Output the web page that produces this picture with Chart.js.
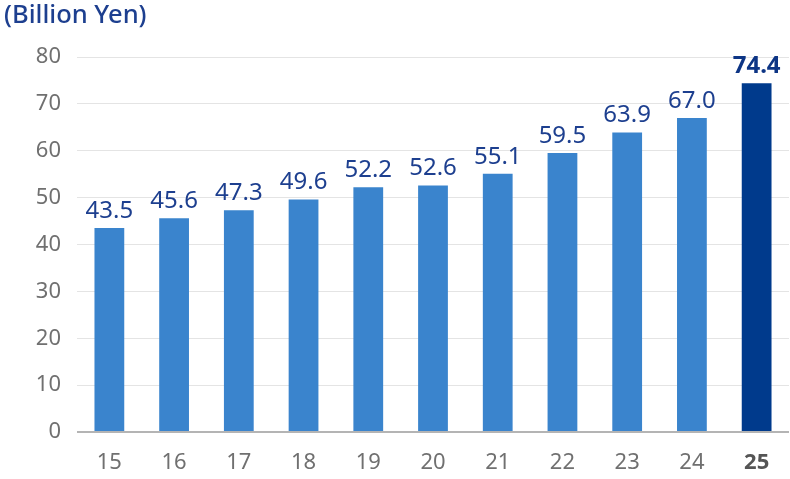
<!DOCTYPE html>
<html>
<head>
<meta charset="utf-8">
<script src="https://cdn.jsdelivr.net/npm/chart.js@4"></script>
<style>
  html, body { margin: 0; padding: 0; background: #fff; }
  #wrap { width: 790px; height: 479px; position: relative; }
</style>
</head>
<body>
<div id="wrap"><canvas id="salesChart"></canvas></div>
<script>
const years = ["15", "16", "17", "18", "19", "20", "21", "22", "23", "24", "25"];
const sales = [43.5, 45.6, 47.3, 49.6, 52.2, 52.6, 55.1, 59.5, 63.9, 67.0, 74.4];
const yTicks = [0, 10, 20, 30, 40, 50, 60, 70, 80];
const unitLabel = "(Billion Yen)";

const FONT = "'Noto Sans', Roboto, sans-serif";
const last = years.length - 1;

// value labels over each bar + unit caption
const valueLabels = {
  id: "valueLabels",
  afterDatasetsDraw(chart) {
    const { ctx } = chart;
    const meta = chart.getDatasetMeta(0);
    ctx.save();
    ctx.textAlign = "center";
    ctx.textBaseline = "bottom";
    meta.data.forEach((bar, i) => {
      const p = bar.getProps(["x", "y"], true);
      ctx.fillStyle = i === last ? "#0d3585" : "#1d3f8f";
      ctx.font = (i === last ? "bold " : "") + "24px " + FONT;
      ctx.fillText(sales[i].toFixed(1), p.x, p.y - 5);
    });
    ctx.font = "500 25.5px " + FONT;
    ctx.fillStyle = "#1d3f8f";
    ctx.textAlign = "left";
    ctx.textBaseline = "middle";
    ctx.fillText(unitLabel, 4, 16);
    ctx.restore();
  },
};

const ctx = document.getElementById("salesChart").getContext("2d");
new Chart(ctx, {
  type: "bar",
  data: {
    labels: years,
    datasets: [
      {
        data: sales,
        backgroundColor: years.map((y, i) => (i === last ? "#003a8c" : "#3a84cd")),
        categoryPercentage: 1,
        barPercentage: 0.46,
      },
    ],
  },
  options: {
    responsive: true,
    maintainAspectRatio: false,
    animation: false,
    layout: { padding: { top: 57, right: 1, left: 0, bottom: 4 } },
    plugins: {
      legend: { display: false },
      tooltip: { enabled: false },
    },
    scales: {
      x: {
        grid: { display: false },
        border: { display: false },
        afterFit: (axis) => {
          axis.height = 43;
        },
        ticks: {
          color: (c) => (c.index === last ? "#555" : "#707070"),
          font: (c) => ({ family: FONT, size: 22, weight: c.index === last ? "bold" : "normal" }),
          padding: 10,
        },
      },
      y: {
        min: 0,
        max: 80,
        afterBuildTicks: (axis) => {
          axis.ticks = yTicks.map((v) => ({ value: v }));
        },
        afterFit: (axis) => {
          axis.width = 77;
        },
        border: { display: false },
        grid: {
          color: (c) => (c.tick && c.tick.value === 0 ? "#b4b4b4" : "#e4e4e4"),
          lineWidth: (c) => (c.tick && c.tick.value === 0 ? 2 : 1),
          drawTicks: false,
        },
        ticks: {
          color: "#707070",
          font: { family: FONT, size: 22 },
          padding: 16,
        },
      },
    },
  },
  plugins: [valueLabels],
});
</script>
</body>
</html>
